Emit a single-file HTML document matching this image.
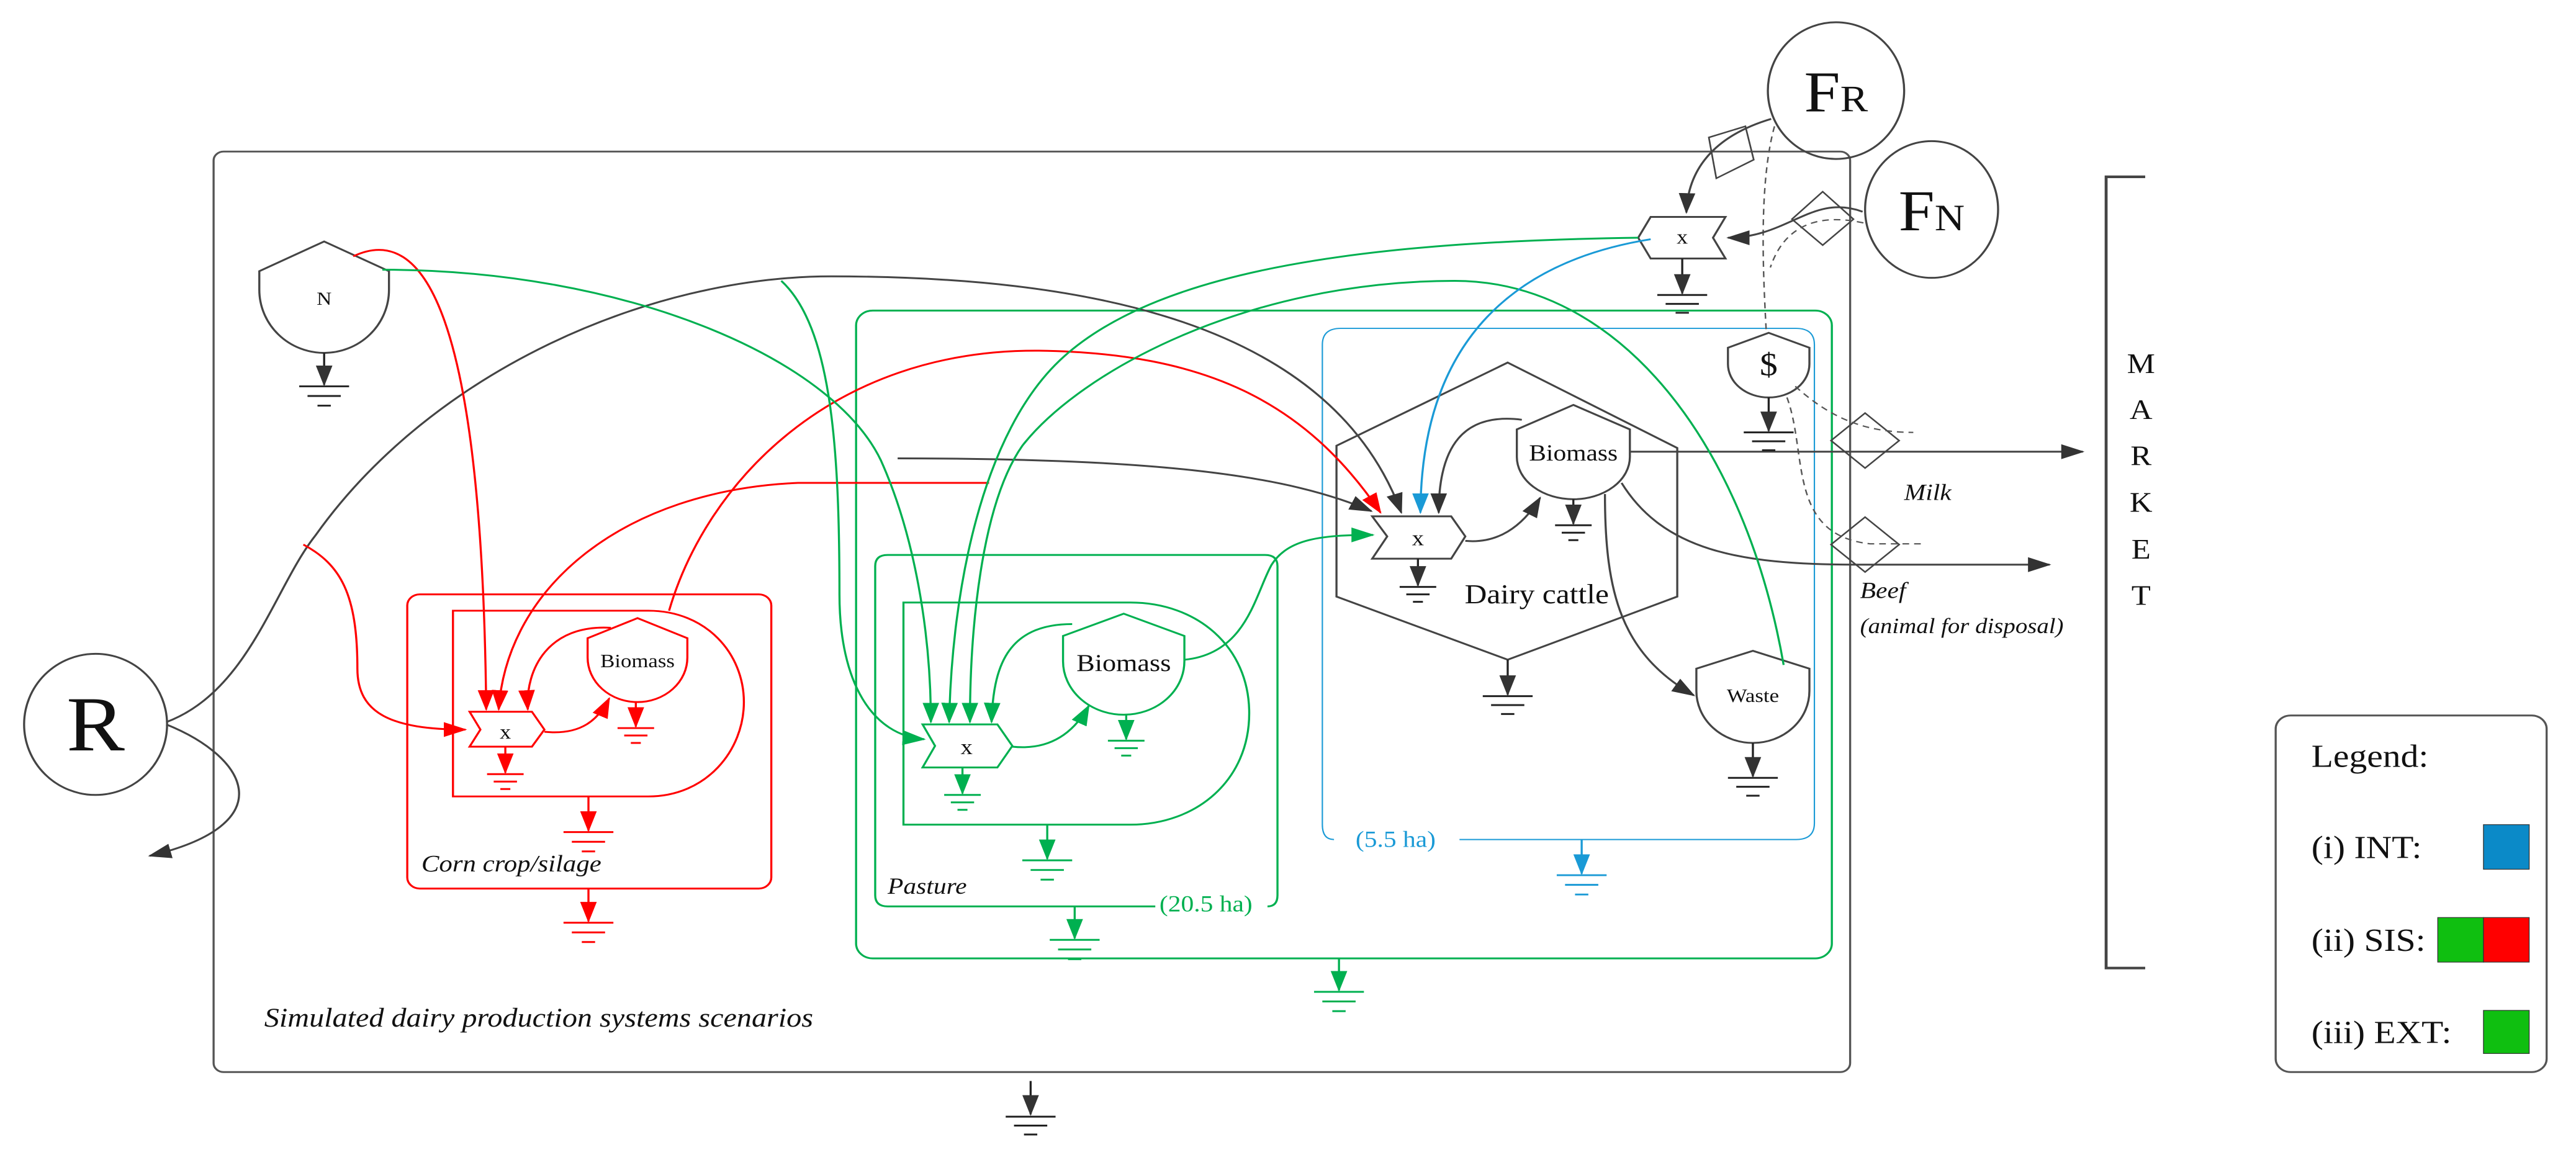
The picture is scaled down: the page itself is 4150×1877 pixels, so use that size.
<!DOCTYPE html>
<html><head><meta charset="utf-8"><style>
html,body{margin:0;padding:0;background:#fff;}
svg{display:block;}
text{font-family:"Liberation Serif",serif;}
</style></head><body>
<svg width="4150" height="1877" viewBox="0 0 4150 1877" xmlns="http://www.w3.org/2000/svg">
<defs>
<marker id="ak" markerUnits="userSpaceOnUse" markerWidth="30" markerHeight="24" refX="26" refY="12" orient="auto"><path d="M0,2 L28,12 L0,22 Z" fill="#333"/></marker>
<marker id="ar" markerUnits="userSpaceOnUse" markerWidth="30" markerHeight="24" refX="26" refY="12" orient="auto"><path d="M0,2 L28,12 L0,22 Z" fill="#f00"/></marker>
<marker id="ag" markerUnits="userSpaceOnUse" markerWidth="30" markerHeight="24" refX="26" refY="12" orient="auto"><path d="M0,2 L28,12 L0,22 Z" fill="#00b050"/></marker>
<marker id="ab" markerUnits="userSpaceOnUse" markerWidth="30" markerHeight="24" refX="26" refY="12" orient="auto"><path d="M0,2 L28,12 L0,22 Z" fill="#1a9ad6"/></marker>
</defs>
<g transform="scale(1.339,1.197)">
<g fill="none" stroke-width="2.5">
<rect x="257" y="204" width="1969" height="1239" rx="12" stroke="#555"/>
<rect x="1030" y="418" width="1174" height="872" rx="20" stroke="#00b050"/>
<path d="M1390,1220 H1068 Q1053,1220 1053,1205 V762 Q1053,747 1068,747 H1522 Q1537,747 1537,762 V1205 Q1537,1220 1525,1220" stroke="#00b050"/>
<path d="M1087,811 H1360 C1440,811 1503,870 1503,960 C1503,1050 1440,1110 1360,1110 H1087 Z" stroke="#00b050"/>
<rect x="490" y="800" width="438" height="396" rx="15" stroke="#f00"/>
<path d="M545,822 H780 C850,822 895,880 895,945 C895,1010 850,1072 780,1072 H545 Z" stroke="#f00"/>
<path d="M1605,1130 Q1591,1130 1591,1110 V464 Q1591,442 1613,442 H2161 Q2183,442 2183,464 V1108 Q2183,1130 2161,1130 H1756" stroke="#1a9ad6" stroke-width="1.6"/>
<polygon points="1814,488 2018,603 2018,803 1814,888 1608,803 1608,600" stroke="#444"/>
<ellipse cx="115" cy="975" rx="86" ry="95" stroke="#444"/>
<ellipse cx="2209" cy="122" rx="82" ry="92" stroke="#444"/>
<ellipse cx="2324" cy="282" rx="80" ry="92" stroke="#444"/>
<path d="M390,325 L468,365 L468,390 A78,85 0 0 1 312,390 L312,365 Z" stroke="#444"/>
<path d="M767,832 L827,859 L827,885 A60,60 0 0 1 707,885 L707,859 Z" stroke="#f00"/>
<path d="M1352,826 L1425,856 L1425,890 A73,72 0 0 1 1279,890 L1279,856 Z" stroke="#00b050"/>
<path d="M1893,545 L1961,578 L1961,615 A68,57 0 0 1 1825,615 L1825,578 Z" stroke="#444"/>
<path d="M2109,876 L2177,900 L2177,930 A68,70 0 0 1 2041,930 L2041,900 Z" stroke="#444"/>
<path d="M2128,448 L2177,468 L2177,490 A49,45 0 0 1 2079,490 L2079,468 Z" stroke="#444"/>
<polygon points="565,958 640,958 655,982 640,1005 565,1005 578,982" stroke="#f00"/>
<polygon points="1110,975 1200,975 1218,1004 1200,1033 1110,1033 1125,1004" stroke="#00b050"/>
<polygon points="1651,695 1746,695 1763,722 1746,752 1651,752 1669,722" stroke="#444"/>
<polygon points="1986,292 2076,292 2061,320 2076,348 1986,348 1971,320" stroke="#444"/>
<polygon points="2056,185 2100,170 2110,215 2065,240" stroke="#444" stroke-width="2"/>
<polygon points="2193,258 2230,295 2193,330 2156,295" stroke="#444" stroke-width="2"/>
<polygon points="2244,556 2285,593 2244,630 2203,593" stroke="#444" stroke-width="2"/>
<polygon points="2244,696 2285,733 2244,770 2203,733" stroke="#444" stroke-width="2"/>
<g stroke="#555" stroke-width="1.8" stroke-dasharray="8,6">
<path d="M2135,170 C2115,250 2122,380 2125,445"/>
<path d="M2242,300 C2180,285 2145,310 2130,360"/>
<path d="M2160,520 C2200,560 2240,582 2302,582"/>
<path d="M2150,535 C2175,610 2150,720 2250,732 H2312"/>
</g>
<g stroke="#444">
<path d="M200,972 C300,930 330,790 380,720 C520,500 780,372 1000,372 C1300,372 1600,430 1686,690" marker-end="url(#ak)"/>
<path d="M200,975 C300,1020 340,1110 180,1152" marker-end="url(#ak)"/>
<path d="M1080,617 C1400,617 1550,640 1650,688" marker-end="url(#ak)"/>
<path d="M1831,565 C1761,555 1731,600 1731,690" marker-end="url(#ak)"/>
<path d="M1763,728 C1801,732 1831,710 1853,670" marker-end="url(#ak)"/>
<path d="M1961,608 H2506" marker-end="url(#ak)"/>
<path d="M1951,650 C2001,740 2091,760 2231,760 H2466" marker-end="url(#ak)"/>
<path d="M1931,665 C1931,800 1951,880 2038,936" marker-end="url(#ak)"/>
<path d="M2131,160 C2071,180 2031,220 2029,286" marker-end="url(#ak)"/>
<path d="M2241,285 C2181,260 2151,320 2079,320" marker-end="url(#ak)"/>
</g>
<g stroke="#f00">
<path d="M425,345 C510,300 580,420 585,955" marker-end="url(#ar)"/>
<path d="M365,733 C410,760 430,800 430,900 C430,960 470,982 560,982" marker-end="url(#ar)"/>
<path d="M1190,650 H960 C750,660 610,790 600,955" marker-end="url(#ar)"/>
<path d="M735,845 C660,840 632,900 635,955" marker-end="url(#ar)"/>
<path d="M655,985 C700,990 720,968 733,940" marker-end="url(#ar)"/>
<path d="M805,822 C850,650 1000,470 1250,472 C1450,475 1570,540 1661,690" marker-end="url(#ar)"/>
</g>
<g stroke="#00b050">
<path d="M460,363 C750,363 1000,480 1060,620 C1100,720 1120,850 1120,972" marker-end="url(#ag)"/>
<path d="M940,378 C1000,440 1010,600 1010,800 C1010,920 1050,990 1112,995" marker-end="url(#ag)"/>
<path d="M1971,320 C1650,325 1400,360 1280,480 C1180,580 1145,800 1142,972" marker-end="url(#ag)"/>
<path d="M2146,895 C2100,600 1950,378 1750,378 C1500,378 1300,500 1230,600 C1180,680 1167,850 1167,972" marker-end="url(#ag)"/>
<path d="M1290,840 C1210,840 1195,900 1193,972" marker-end="url(#ag)"/>
<path d="M1218,1005 C1260,1010 1290,990 1310,950" marker-end="url(#ag)"/>
<path d="M1425,888 C1500,880 1510,800 1530,760 C1550,725 1590,720 1652,720" marker-end="url(#ag)"/>
</g>
<path d="M1986,322 C1830,350 1710,450 1709,690" stroke="#1a9ad6" marker-end="url(#ab)"/>
<path d="M2581,238 H2534 V1303 H2581" stroke="#444" stroke-width="3.5"/>
<rect x="2738" y="963" width="326" height="480" rx="18" stroke="#555"/>
</g>
<rect x="2988" y="1110" width="55" height="60" fill="#0b8ac8" stroke="#333" stroke-width="1"/>
<rect x="2933" y="1235" width="55" height="60" fill="#0fbf10" stroke="#333" stroke-width="1"/>
<rect x="2988" y="1235" width="55" height="60" fill="#f00" stroke="#333" stroke-width="1"/>
<rect x="2988" y="1360" width="55" height="58" fill="#0fbf10" stroke="#333" stroke-width="1"/>
<g fill="none" stroke-width="2.5">
<g stroke="#222"><path d="M390,475V518" marker-end="url(#ak)"/><path d="M360,520h60M370,533h40M382,546h16"/></g>
<g stroke="#222"><path d="M1240,1455V1500" marker-end="url(#ak)"/><path d="M1210,1503h60M1220,1515h40M1232,1527h16"/></g>
<g stroke="#222"><path d="M1706,752V788" marker-end="url(#ak)"/><path d="M1684,790h44M1692,800h28M1700,810h12"/></g>
<g stroke="#222"><path d="M1893,672V705" marker-end="url(#ak)"/><path d="M1871,707h44M1879,717h28M1887,727h12"/></g>
<g stroke="#222"><path d="M1814,888V935" marker-end="url(#ak)"/><path d="M1784,937h60M1794,949h40M1806,961h16"/></g>
<g stroke="#222"><path d="M2109,1000V1045" marker-end="url(#ak)"/><path d="M2079,1047h60M2089,1059h40M2101,1071h16"/></g>
<g stroke="#222"><path d="M2128,535V580" marker-end="url(#ak)"/><path d="M2098,582h60M2108,594h40M2120,606h16"/></g>
<g stroke="#222"><path d="M2024,348V395" marker-end="url(#ak)"/><path d="M1994,397h60M2004,409h40M2016,421h16"/></g>
<g stroke="#f00"><path d="M608,1005V1040" marker-end="url(#ar)"/><path d="M586,1042h44M594,1052h28M602,1062h12"/></g>
<g stroke="#f00"><path d="M765,945V978" marker-end="url(#ar)"/><path d="M743,980h44M751,990h28M759,1000h12"/></g>
<g stroke="#f00"><path d="M708,1072V1118" marker-end="url(#ar)"/><path d="M678,1120h60M688,1133h40M700,1146h16"/></g>
<g stroke="#f00"><path d="M708,1196V1240" marker-end="url(#ar)"/><path d="M678,1242h60M688,1255h40M700,1268h16"/></g>
<g stroke="#00b050"><path d="M1158,1033V1068" marker-end="url(#ag)"/><path d="M1136,1070h44M1144,1080h28M1152,1090h12"/></g>
<g stroke="#00b050"><path d="M1355,962V995" marker-end="url(#ag)"/><path d="M1333,997h44M1341,1007h28M1349,1017h12"/></g>
<g stroke="#00b050"><path d="M1260,1110V1156" marker-end="url(#ag)"/><path d="M1230,1158h60M1240,1171h40M1252,1184h16"/></g>
<g stroke="#00b050"><path d="M1293,1220V1263" marker-end="url(#ag)"/><path d="M1263,1265h60M1273,1278h40M1285,1291h16"/></g>
<g stroke="#00b050"><path d="M1611,1290V1333" marker-end="url(#ag)"/><path d="M1581,1335h60M1591,1348h40M1603,1361h16"/></g>
<g stroke="#1a9ad6"><path d="M1903,1130V1176" marker-end="url(#ab)"/><path d="M1873,1178h60M1883,1191h40M1895,1204h16"/></g>
</g>
<g fill="#111">
<text x="115" y="1010" font-size="105" text-anchor="middle">R</text>
<text x="2209" y="150" font-size="78" text-anchor="middle">F<tspan font-size="50">R</tspan></text>
<text x="2324" y="310" font-size="78" text-anchor="middle">F<tspan font-size="50">N</tspan></text>
<text x="390" y="410" font-size="25" text-anchor="middle">N</text>
<text x="767" y="898" font-size="26" text-anchor="middle">Biomass</text>
<text x="1352" y="903" font-size="33" text-anchor="middle">Biomass</text>
<text x="1893" y="620" font-size="31" text-anchor="middle">Biomass</text>
<text x="2109" y="945" font-size="26" text-anchor="middle">Waste</text>
<text x="2128" y="505" font-size="43" text-anchor="middle">$</text>
<text x="608" y="994" font-size="27" text-anchor="middle">x</text>
<text x="1163" y="1015" font-size="29" text-anchor="middle">x</text>
<text x="1706" y="734" font-size="29" text-anchor="middle">x</text>
<text x="2024" y="328" font-size="27" text-anchor="middle">x</text>
<text x="1849" y="812" font-size="37" text-anchor="middle">Dairy cattle</text>
<text x="507" y="1173" font-size="32" font-style="italic">Corn crop/silage</text>
<text x="1068" y="1203" font-size="31" font-style="italic">Pasture</text>
<text x="1395" y="1227" font-size="31" fill="#00b050">(20.5 ha)</text>
<text x="1631" y="1140" font-size="31" fill="#1a9ad6">(5.5 ha)</text>
<text x="318" y="1382" font-size="36" font-style="italic">Simulated dairy production systems scenarios</text>
<text x="2291" y="673" font-size="31" font-style="italic">Milk</text>
<text x="2238" y="805" font-size="31" font-style="italic">Beef</text>
<text x="2238" y="852" font-size="29" font-style="italic">(animal for disposal)</text>
<g font-size="38" text-anchor="middle" style="font-family:'Liberation Sans',sans-serif">
<text x="2576" y="502">M</text><text x="2576" y="564">A</text><text x="2576" y="626">R</text>
<text x="2576" y="689">K</text><text x="2576" y="752">E</text><text x="2576" y="814">T</text>
</g>
<text x="2781" y="1032" font-size="43">Legend:</text>
<text x="2781" y="1155" font-size="43">(i) INT:</text>
<text x="2781" y="1280" font-size="43">(ii) SIS:</text>
<text x="2781" y="1404" font-size="43">(iii) EXT:</text>
</g>
</g>
</svg>
</body></html>
